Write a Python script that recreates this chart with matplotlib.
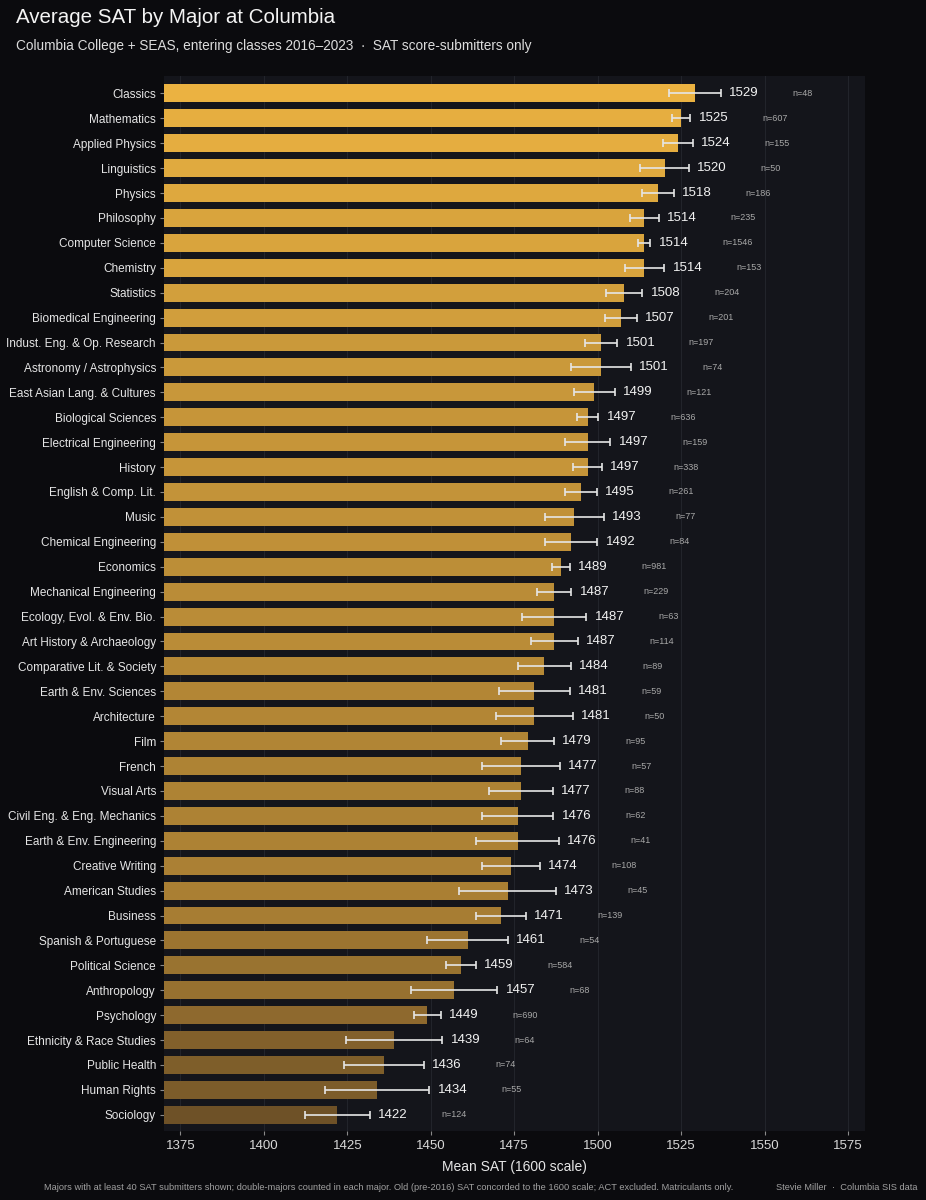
import numpy as np
import matplotlib.pyplot as plt
from matplotlib.colors import to_rgb

plt.rcParams['font.family'] = ['Liberation Sans', 'DejaVu Sans']

# data
majors = ["Classics", "Mathematics", "Applied Physics", "Linguistics", "Physics",
          "Philosophy", "Computer Science", "Chemistry", "Statistics",
          "Biomedical Engineering", "Indust. Eng. & Op. Research",
          "Astronomy / Astrophysics", "East Asian Lang. & Cultures",
          "Biological Sciences", "Electrical Engineering", "History",
          "English & Comp. Lit.", "Music", "Chemical Engineering", "Economics",
          "Mechanical Engineering", "Ecology, Evol. & Env. Bio.",
          "Art History & Archaeology", "Comparative Lit. & Society",
          "Earth & Env. Sciences", "Architecture", "Film", "French",
          "Visual Arts", "Civil Eng. & Eng. Mechanics", "Earth & Env. Engineering",
          "Creative Writing", "American Studies", "Business",
          "Spanish & Portuguese", "Political Science", "Anthropology",
          "Psychology", "Ethnicity & Race Studies", "Public Health",
          "Human Rights", "Sociology"]
mean_sat = [1529, 1525, 1524, 1520, 1518, 1514, 1514, 1514, 1508, 1507, 1501,
            1501, 1499, 1497, 1497, 1497, 1495, 1493, 1492, 1489, 1487, 1487,
            1487, 1484, 1481, 1481, 1479, 1477, 1477, 1476, 1476, 1474, 1473,
            1471, 1461, 1459, 1457, 1449, 1439, 1436, 1434, 1422]
ci = [7.8, 2.7, 4.5, 7.2, 4.7, 4.2, 1.8, 5.9, 5.4, 4.7, 4.8, 8.9, 6.1, 3.2,
      6.8, 4.3, 4.7, 8.8, 7.9, 2.7, 5.1, 9.6, 7.0, 8.0, 10.7, 11.6, 7.9, 11.6,
      9.6, 10.7, 12.4, 8.7, 14.5, 7.4, 12.1, 4.5, 12.9, 4.0, 14.5, 11.9, 15.6,
      9.7]
n_sub = [48, 607, 155, 50, 186, 235, 1546, 153, 204, 201, 197, 74, 121, 636,
         159, 338, 261, 77, 84, 981, 229, 63, 114, 89, 59, 50, 95, 57, 88, 62,
         41, 108, 45, 139, 54, 584, 68, 690, 64, 74, 55, 124]

fig_bg = "#0b0b0e"
ax_bg = "#14151b"
top_c = np.array(to_rgb("#ebb241"))
bot_c = np.array(to_rgb("#6e5127"))

vals = np.array(mean_sat, dtype=float)
norm = (vals - vals.min()) / (vals.max() - vals.min())
colors = [tuple(bot_c + (top_c - bot_c) * t) for t in norm]

fig = plt.figure(figsize=(9.26, 12), dpi=100, facecolor=fig_bg)
ax = fig.add_axes([0.1767, 0.0575, 0.7573, 0.8792], facecolor=ax_bg)

y = np.arange(len(majors))
ax.barh(y, vals, height=0.72, color=colors, zorder=2)
ax.errorbar(vals, y, xerr=ci, fmt="none", ecolor="#e6e6e6", elinewidth=1.2,
            capsize=3, capthick=1.2, zorder=3)

for i in range(len(majors)):
    hi = vals[i] + ci[i]
    ax.text(hi + 2.5, y[i], f"{mean_sat[i]}", va="center", ha="left",
            color="#f2f2f2", fontsize=9.5, zorder=4)
    ax.text(hi + 21.5, y[i], f"n={n_sub[i]}", va="center", ha="left",
            color="#a8a8a8", fontsize=6.5, zorder=4)

ax.set_xlim(1370, 1580)
ax.set_ylim(len(majors) - 0.35, -0.7)
ax.set_yticks(y)
ax.set_yticklabels(majors)
ax.set_xticks(np.arange(1375, 1576, 25))

ax.tick_params(axis="y", colors="#8a8a8a", labelcolor="#e6e6e6", labelsize=8.5,
               length=3, width=0.8, pad=2.5)
ax.tick_params(axis="x", colors="#8a8a8a", labelcolor="#d8d8d8", labelsize=9.5,
               length=3, width=0.8)
for s in ax.spines.values():
    s.set_visible(False)
ax.grid(axis="x", color="#22242b", linewidth=0.8, zorder=0)
ax.set_axisbelow(True)

ax.set_xlabel("Mean SAT (1600 scale)", color="#e6e6e6", fontsize=10, labelpad=6)

fig.text(0.0173, 0.9858, "Average SAT by Major at Columbia", color="#f4f4f4",
         fontsize=14.8, ha="left", va="center")
fig.text(0.0173, 0.9617, "Columbia College + SEAS, entering classes 2016\u20132023  \u00b7  SAT score-submitters only",
         color="#dcdcdc", fontsize=9.8, ha="left", va="center")
fig.text(0.0475, 0.0105, "Majors with at least 40 SAT submitters shown; double-majors counted in each major. "
         "Old (pre-2016) SAT concorded to the 1600 scale; ACT excluded. Matriculants only.",
         color="#a0a0a0", fontsize=6.7, ha="left", va="center")
fig.text(0.991, 0.0105, "Stevie Miller  \u00b7  Columbia SIS data", color="#a0a0a0",
         fontsize=6.7, ha="right", va="center")

fig.savefig("out.png", dpi=100, facecolor=fig_bg)
